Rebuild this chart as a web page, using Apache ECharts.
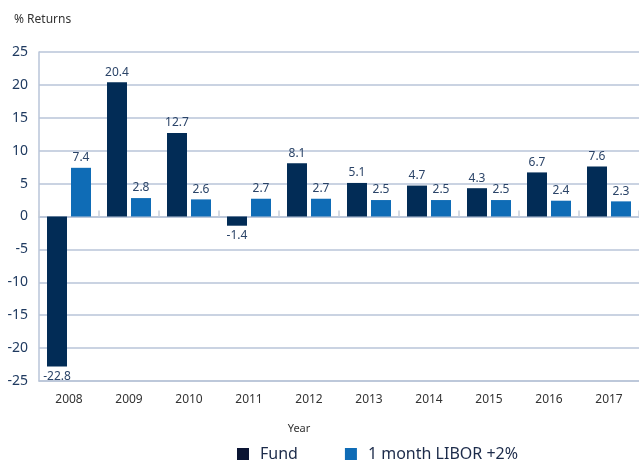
<!DOCTYPE html>
<html>
<head>
<meta charset="utf-8">
<script src="https://cdn.jsdelivr.net/npm/echarts@6/dist/echarts.min.js"></script>
<style>
  html, body { margin: 0; padding: 0; background: #fff; }
  #chart { width: 639px; height: 461px; }
</style>
</head>
<body>
<div id="chart"></div>
<script>
const years = ['2008', '2009', '2010', '2011', '2012', '2013', '2014', '2015', '2016', '2017']
const fund = [-22.8, 20.4, 12.7, -1.4, 8.1, 5.1, 4.7, 4.3, 6.7, 7.6]
const libor = [7.4, 2.8, 2.6, 2.7, 2.7, 2.5, 2.5, 2.5, 2.4, 2.3]

const gridColor = '#b9c5d8'
const labelColor = '#2b4468'
const fontFamily = '"Noto Sans", sans-serif'

const chart = echarts.init(document.getElementById('chart'))

// negative values get their label under the bar
const fundData = fund.map(v => v < 0 ? { value: v, label: { position: 'bottom' } } : v)

chart.setOption({
  backgroundColor: '#fff',
  animation: false,
  textStyle: { fontFamily: fontFamily },
  title: {
    text: '% Returns',
    left: 9,
    top: 9,
    textStyle: { fontSize: 12, fontWeight: 'normal', color: '#333', fontFamily: fontFamily }
  },
  legend: {
    left: 232,
    top: 441,
    itemWidth: 12,
    itemHeight: 12,
    itemGap: 47,
    icon: 'rect',
    textStyle: { fontSize: 16, color: '#1c2b4a', fontFamily: fontFamily, padding: [0, 0, 0, 6] },
    data: [
      { name: 'Fund', itemStyle: { color: '#0b1533' } },
      { name: '1 month LIBOR +2%' }
    ]
  },
  grid: {
    left: 39,
    right: 0,
    top: 52,
    bottom: 80
  },
  xAxis: [{
    type: 'category',
    data: years,
    position: 'bottom',
    name: 'Year',
    nameLocation: 'middle',
    nameGap: 42,
    nameTextStyle: { fontSize: 11, color: '#333', padding: [0, 80, 0, 0] },
    axisLine: { onZero: false, lineStyle: { color: gridColor, width: 1.5 } },
    axisTick: { show: false },
    axisLabel: { fontSize: 12, color: '#333', margin: 13 }
  }, {
    type: 'category',
    data: years,
    position: 'bottom',
    axisLine: { onZero: true, lineStyle: { color: gridColor, width: 1.5 } },
    axisTick: { show: true, inside: true, length: 6, lineStyle: { color: '#c8d0dc', width: 1.5 } },
    axisLabel: { show: false }
  }],
  yAxis: {
    type: 'value',
    min: -25,
    max: 25,
    interval: 5,
    axisLine: { show: true, lineStyle: { color: gridColor, width: 1.5 } },
    axisTick: { show: false },
    axisLabel: { fontSize: 14, color: '#1f3a60', margin: 11 },
    splitLine: { lineStyle: { color: gridColor, width: 1.5 } }
  },
  series: [{
    name: 'Fund',
    type: 'bar',
    data: fundData,
    barWidth: 20,
    barGap: '20%',
    itemStyle: { color: '#022c56' },
    label: { show: true, position: 'top', distance: 4, fontSize: 12, color: labelColor }
  }, {
    name: '1 month LIBOR +2%',
    type: 'bar',
    data: libor,
    barWidth: 20,
    itemStyle: { color: '#0f6cb6' },
    label: { show: true, position: 'top', distance: 4, fontSize: 12, color: labelColor }
  }]
})
</script>
</body>
</html>
